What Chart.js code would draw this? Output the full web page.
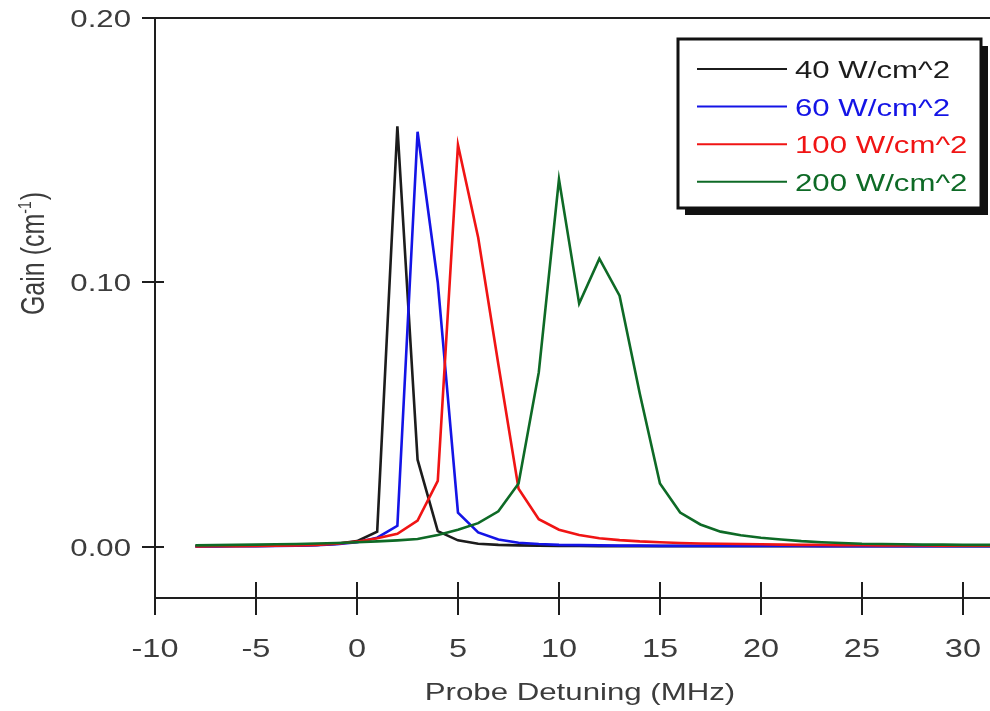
<!DOCTYPE html>
<html>
<head>
<meta charset="utf-8">
<title>Gain vs Probe Detuning</title>
<script src="https://cdn.jsdelivr.net/npm/chart.js@4.4.1/dist/chart.umd.min.js"></script>
<style>
  html, body { margin: 0; padding: 0; background: #fff; }
  #wrap { width: 990px; height: 711px; }
</style>
</head>
<body>
<div id="wrap"><canvas id="gainChart" width="990" height="711"></canvas></div>
<script>
// Probe detuning (MHz), one sample per MHz
const detuning = [-8, -7, -6, -5, -4, -3, -2, -1, 0, 1, 2, 3, 4, 5, 6, 7, 8, 9, 10, 11, 12,
  13, 14, 15, 16, 17, 18, 19, 20, 21, 22, 23, 24, 25, 26, 27, 28, 29, 30, 31, 32];

// Gain (cm^-1) for each pump intensity
const gain40 = [0.0003, 0.0003, 0.0004, 0.0004, 0.0005, 0.0006, 0.0008, 0.0012, 0.0022, 0.0058,
  0.159, 0.033, 0.006, 0.0025, 0.0012, 0.0008, 0.0006, 0.0005, 0.0004, 0.0004, 0.0003,
  0.0003, 0.0003, 0.0003, 0.0003, 0.0003, 0.0003, 0.0003, 0.0003, 0.0003, 0.0003,
  0.0003, 0.0003, 0.0003, 0.0003, 0.0003, 0.0003, 0.0003, 0.0003, 0.0003, 0.0003];
const gain60 = [0.0002, 0.0002, 0.0003, 0.0003, 0.0004, 0.0005, 0.0007, 0.001, 0.0018, 0.0035,
  0.008, 0.157, 0.100, 0.013, 0.0055, 0.0028, 0.0016, 0.0011, 0.0008, 0.0007, 0.0006,
  0.0005, 0.0005, 0.0004, 0.0004, 0.0004, 0.0004, 0.0004, 0.0004, 0.0004, 0.0004,
  0.0003, 0.0003, 0.0003, 0.0003, 0.0003, 0.0003, 0.0003, 0.0003, 0.0003, 0.0003];
const gain100 = [0.0002, 0.0003, 0.0003, 0.0004, 0.0005, 0.0006, 0.0008, 0.0012, 0.002, 0.0033,
  0.005, 0.010, 0.025, 0.152, 0.117, 0.069, 0.022, 0.0105, 0.0065, 0.0045, 0.0033,
  0.0026, 0.0021, 0.0018, 0.0015, 0.0013, 0.0012, 0.0011, 0.001, 0.0009, 0.0008,
  0.0008, 0.0007, 0.0007, 0.0006, 0.0006, 0.0006, 0.0005, 0.0005, 0.0005, 0.0005];
const gain200 = [0.0006, 0.0007, 0.0008, 0.0009, 0.001, 0.0011, 0.0013, 0.0015, 0.0018, 0.0021,
  0.0025, 0.003, 0.0045, 0.0065, 0.009, 0.0135, 0.024, 0.066, 0.139, 0.092, 0.109,
  0.095, 0.058, 0.024, 0.013, 0.0085, 0.0058, 0.0044, 0.0035, 0.0028, 0.0022,
  0.0018, 0.0015, 0.0012, 0.0011, 0.001, 0.0009, 0.0009, 0.0008, 0.0008, 0.0008];

const seriesLabels = ['40 W/cm^2', '60 W/cm^2', '100 W/cm^2', '200 W/cm^2'];
const seriesColors = ['#1c1c1c', '#1414e6', '#f01414', '#0e6a26'];

const xTickValues = [-10, -5, 0, 5, 10, 15, 20, 25, 30];
const yTickValues = [0.00, 0.10, 0.20];

const textColor = '#3c3c3c';
const fontFamily = '"Liberation Sans", Arial, sans-serif';
const stretch = 1.3; // the original figure's lettering is wide

function toPoints(values) {
  return values.map((v, i) => ({ x: detuning[i], y: v }));
}

function wideText(ctx, text, x, y, align, size) {
  ctx.save();
  ctx.translate(x, y);
  ctx.scale(stretch, 1);
  ctx.font = size + 'px ' + fontFamily;
  ctx.textAlign = align;
  ctx.textBaseline = 'alphabetic';
  ctx.fillText(text, 0, 0);
  ctx.restore();
}

// Axes decorations, labels and the boxed legend
const figurePlugin = {
  id: 'figure',
  afterDraw(chart) {
    const ctx = chart.ctx;
    const area = chart.chartArea;
    const xs = chart.scales.x;
    const ys = chart.scales.y;

    ctx.save();
    ctx.strokeStyle = '#1e1e1e';
    ctx.lineWidth = 2;

    // top frame line
    ctx.beginPath();
    ctx.moveTo(area.left, area.top);
    ctx.lineTo(area.right, area.top);
    ctx.stroke();

    // tick marks crossing the axes
    ctx.beginPath();
    xTickValues.forEach(v => {
      const px = Math.round(xs.getPixelForValue(v));
      ctx.moveTo(px, area.bottom - 16);
      ctx.lineTo(px, area.bottom + 17);
    });
    yTickValues.forEach(v => {
      const py = Math.round(ys.getPixelForValue(v));
      ctx.moveTo(area.left - 13, py);
      ctx.lineTo(area.left + 9, py);
    });
    ctx.stroke();

    // tick labels
    ctx.fillStyle = textColor;
    xTickValues.forEach(v => {
      wideText(ctx, String(v), xs.getPixelForValue(v), 657, 'center', 25);
    });
    yTickValues.forEach(v => {
      wideText(ctx, v.toFixed(2), 131, ys.getPixelForValue(v) + 9, 'right', 24);
    });

    // axis titles
    wideText(ctx, 'Probe Detuning (MHz)', 580, 700, 'center', 24);

    ctx.save();
    ctx.translate(44, 254);
    ctx.rotate(-Math.PI / 2);
    ctx.scale(1, stretch);
    ctx.textBaseline = 'alphabetic';
    ctx.textAlign = 'left';
    ctx.font = '25px ' + fontFamily;
    const part1 = 'Gain (cm';
    const w1 = ctx.measureText(part1).width;
    ctx.font = '14px ' + fontFamily;
    const sup = '-1';
    const w2 = ctx.measureText(sup).width;
    ctx.font = '25px ' + fontFamily;
    const w3 = ctx.measureText(')').width;
    let start = -(w1 + w2 + w3) / 2;
    ctx.fillText(part1, start, 0);
    ctx.font = '14px ' + fontFamily;
    ctx.fillText(sup, start + w1, -10);
    ctx.font = '25px ' + fontFamily;
    ctx.fillText(')', start + w1 + w2 + 1, 0);
    ctx.restore();

    // legend box with drop shadow
    const bx = 678, by = 39, bw = 303, bh = 169;
    ctx.fillStyle = '#111';
    ctx.fillRect(bx + 7, by + 7, bw, bh);
    ctx.fillStyle = '#fff';
    ctx.fillRect(bx, by, bw, bh);
    ctx.lineWidth = 3;
    ctx.strokeStyle = '#111';
    ctx.strokeRect(bx, by, bw, bh);

    chart.data.datasets.forEach((ds, i) => {
      const ly = 69 + i * 37.6;
      ctx.strokeStyle = ds.borderColor;
      ctx.lineWidth = 2;
      ctx.beginPath();
      ctx.moveTo(697, ly);
      ctx.lineTo(787, ly);
      ctx.stroke();
      ctx.fillStyle = ds.borderColor;
      wideText(ctx, ds.label, 795, ly + 9, 'left', 24);
    });

    ctx.restore();
  }
};

const datasets = [gain40, gain60, gain100, gain200].map((vals, i) => ({
  label: seriesLabels[i],
  data: toPoints(vals),
  borderColor: seriesColors[i],
  backgroundColor: seriesColors[i],
  borderWidth: 2.6,
  pointRadius: 0,
  tension: 0,
  fill: false,
  order: 4 - i
}));

new Chart(document.getElementById('gainChart'), {
  type: 'line',
  data: { datasets },
  options: {
    responsive: false,
    animation: false,
    devicePixelRatio: 1,
    layout: { padding: { top: 18, right: 0, left: 0, bottom: 0 } },
    plugins: {
      legend: { display: false },
      tooltip: { enabled: false }
    },
    scales: {
      x: {
        type: 'linear',
        min: -10,
        max: 31.34,
        afterBuildTicks: scale => { scale.ticks = xTickValues.map(v => ({ value: v })); },
        afterFit: scale => { scale.height = 113; },
        ticks: { display: false },
        grid: { display: false, drawTicks: false },
        border: { display: true, color: '#1e1e1e', width: 2 }
      },
      y: {
        type: 'linear',
        min: -0.0193,
        max: 0.20,
        afterBuildTicks: scale => { scale.ticks = yTickValues.map(v => ({ value: v })); },
        afterFit: scale => { scale.width = 155; },
        ticks: { display: false },
        grid: { display: false, drawTicks: false },
        border: { display: true, color: '#1e1e1e', width: 2 }
      }
    }
  },
  plugins: [figurePlugin]
});
</script>
</body>
</html>
